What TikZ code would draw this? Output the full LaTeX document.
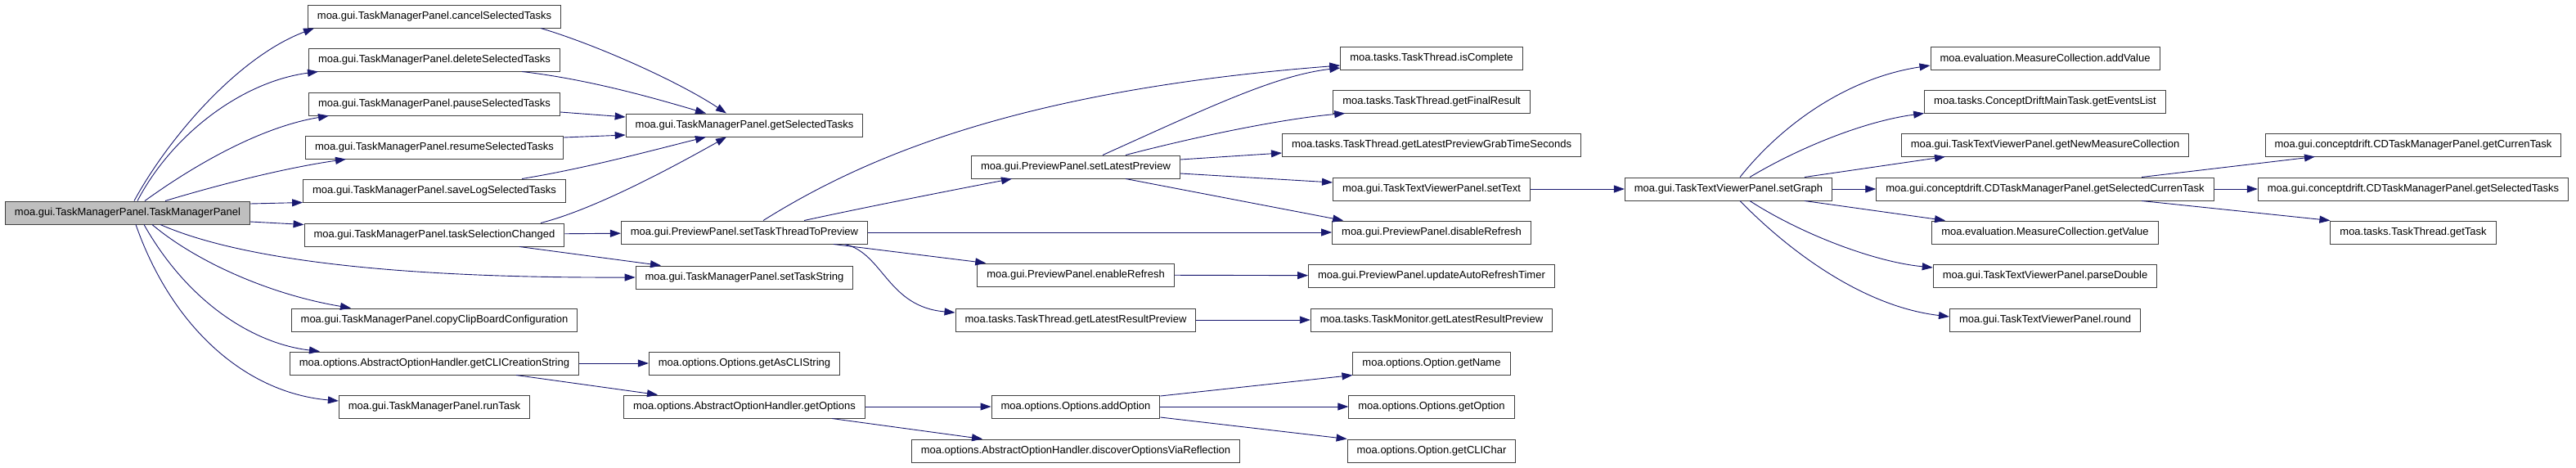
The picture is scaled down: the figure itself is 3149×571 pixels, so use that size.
\documentclass[tikz,border=0pt]{standalone}
\usepackage{fontspec}
\setmainfont{Liberation Sans}
\usetikzlibrary{arrows.meta}
\definecolor{midnight}{HTML}{191970}
\definecolor{rootgray}{HTML}{BFBFBF}

\begin{document}
\begin{tikzpicture}[x=1pt, y=-1pt,
  fn/.style = {draw=black!75, line width=1pt, rectangle, minimum height=28pt,
    inner xsep=11.5pt, inner ysep=0pt, font=\fontsize{13}{15}\selectfont},
  call/.style = {->, draw=midnight, line width=0.9pt},
  >={Triangle[length=13pt, width=9pt]}]
\useasboundingbox (0,0) rectangle (3149,571);

\node[fn, fill=rootgray] (root) at (156,260) {moa.gui.TaskManagerPanel.TaskManagerPanel};
% first column
\node[fn] (cancel) at (531,20) {moa.gui.TaskManagerPanel.cancelSelectedTasks};
\node[fn] (delete) at (531,73) {moa.gui.TaskManagerPanel.deleteSelectedTasks};
\node[fn] (pause) at (531,127) {moa.gui.TaskManagerPanel.pauseSelectedTasks};
\node[fn] (resume) at (531,180) {moa.gui.TaskManagerPanel.resumeSelectedTasks};
\node[fn] (savelog) at (531,233) {moa.gui.TaskManagerPanel.saveLogSelectedTasks};
\node[fn] (selchanged) at (531,287) {moa.gui.TaskManagerPanel.taskSelectionChanged};
\node[fn] (copyclip) at (531,391) {moa.gui.TaskManagerPanel.copyClipBoardConfiguration};
\node[fn] (clistring) at (531,444) {moa.options.AbstractOptionHandler.getCLICreationString};
\node[fn] (runtask) at (531,497) {moa.gui.TaskManagerPanel.runTask};
% second column
\node[fn] (getsel) at (910,153) {moa.gui.TaskManagerPanel.getSelectedTasks};
\node[fn] (setthread) at (910,284) {moa.gui.PreviewPanel.setTaskThreadToPreview};
\node[fn] (settaskstr) at (910,339) {moa.gui.TaskManagerPanel.setTaskString};
\node[fn] (ascli) at (910,444) {moa.options.Options.getAsCLIString};
\node[fn] (getopts) at (910,497) {moa.options.AbstractOptionHandler.getOptions};
% third column
\node[fn] (setlatest) at (1315,204) {moa.gui.PreviewPanel.setLatestPreview};
\node[fn] (enablerf) at (1315,336) {moa.gui.PreviewPanel.enableRefresh};
\node[fn] (ttpreview) at (1315,391) {moa.tasks.TaskThread.getLatestResultPreview};
\node[fn] (addopt) at (1315,497) {moa.options.Options.addOption};
\node[fn] (discover) at (1315,551) {moa.options.AbstractOptionHandler.discoverOptionsViaReflection};
% fourth column
\node[fn] (iscomplete) at (1750,71) {moa.tasks.TaskThread.isComplete};
\node[fn] (finalres) at (1750,124) {moa.tasks.TaskThread.getFinalResult};
\node[fn] (grabtime) at (1750,177) {moa.tasks.TaskThread.getLatestPreviewGrabTimeSeconds};
\node[fn] (settext) at (1750,231) {moa.gui.TaskTextViewerPanel.setText};
\node[fn] (disablerf) at (1750,284) {moa.gui.PreviewPanel.disableRefresh};
\node[fn] (autotimer) at (1750,337) {moa.gui.PreviewPanel.updateAutoRefreshTimer};
\node[fn] (tmpreview) at (1750,391) {moa.tasks.TaskMonitor.getLatestResultPreview};
\node[fn] (getname) at (1750,444) {moa.options.Option.getName};
\node[fn] (getoption) at (1750,497) {moa.options.Options.getOption};
\node[fn] (clichar) at (1750,551) {moa.options.Option.getCLIChar};
% graph panel
\node[fn] (setgraph) at (2113,231) {moa.gui.TaskTextViewerPanel.setGraph};
\node[fn] (addvalue) at (2500,71) {moa.evaluation.MeasureCollection.addValue};
\node[fn] (eventslist) at (2500,124) {moa.tasks.ConceptDriftMainTask.getEventsList};
\node[fn] (newmeasure) at (2500,177) {moa.gui.TaskTextViewerPanel.getNewMeasureCollection};
\node[fn] (selcurren) at (2500,231) {moa.gui.conceptdrift.CDTaskManagerPanel.getSelectedCurrenTask};
\node[fn] (getvalue) at (2500,284) {moa.evaluation.MeasureCollection.getValue};
\node[fn] (parsedbl) at (2500,337) {moa.gui.TaskTextViewerPanel.parseDouble};
\node[fn] (roundfn) at (2500,391) {moa.gui.TaskTextViewerPanel.round};
\node[fn] (currentask) at (2950,177) {moa.gui.conceptdrift.CDTaskManagerPanel.getCurrenTask};
\node[fn] (cdselected) at (2950,231) {moa.gui.conceptdrift.CDTaskManagerPanel.getSelectedTasks};
\node[fn] (gettask) at (2950,284) {moa.tasks.TaskThread.getTask};

% calls made by the constructor
\draw[call] ([xshift=8pt]root.north) .. controls (205,170) and (290,70) .. ([xshift=-147pt]cancel.south);
\draw[call] ([xshift=12pt]root.north) .. controls (210,165) and (295,100) .. ([xshift=-142pt]delete.south);
\draw[call] ([xshift=21pt]root.north) .. controls (240,200) and (320,155) .. ([xshift=-129pt]pause.south);
\draw[call] ([xshift=46pt]root.north) .. controls (270,225) and (350,205) .. ([xshift=-108pt]resume.south);
\draw[call] ([yshift=11pt]root.east) -- (savelog.south west);
\draw[call] ([yshift=-11pt]root.east) -- ([yshift=-2pt]selchanged.north west);
\draw[call] ([xshift=40pt]root.south) .. controls (300,320) and (500,340) .. (settaskstr.west);
\draw[call] ([xshift=30pt]root.south) .. controls (240,320) and (330,360) .. ([xshift=-102pt]copyclip.north);
\draw[call] ([xshift=20pt]root.south) .. controls (230,370) and (310,420) .. ([xshift=-140pt]clistring.north);
\draw[call] ([xshift=10pt]root.south) .. controls (210,400) and (300,480) .. ([yshift=7pt]runtask.west);

\draw[call] ([xshift=130pt]cancel.south) .. controls (730,55) and (830,100) .. ([xshift=-22pt]getsel.north);
\draw[call] ([xshift=107pt]delete.south) .. controls (720,97) and (800,120) .. ([xshift=-47pt]getsel.north);
\draw[call] ([yshift=-10pt]pause.east) -- ([yshift=10pt]getsel.west);
\draw[call] ([yshift=12pt]resume.east) -- ([yshift=-12pt]getsel.west);
\draw[call] ([xshift=107pt]savelog.north) .. controls (720,205) and (800,183) .. ([xshift=-47pt]getsel.south);
\draw[call] ([xshift=130pt]selchanged.north) .. controls (730,255) and (830,200) .. ([xshift=-22pt]getsel.south);
\draw[call] (selchanged) -- (setthread);
\draw[call] ([xshift=104pt]selchanged.south) -- ([xshift=-102pt]settaskstr.north);

% preview panel
\draw[call] ([xshift=23pt]setthread.north) .. controls (1060,190) and (1250,110) .. ([yshift=-9pt]iscomplete.west);
\draw[call] ([xshift=73pt]setthread.north) .. controls (1050,255) and (1150,235) .. ([xshift=-78pt]setlatest.south);
\draw[call] (setthread) -- (disablerf);
\draw[call] ([xshift=109pt]setthread.south) -- ([xshift=11pt]enablerf.north west);
\draw[call] ([xshift=123pt]setthread.south) .. controls (1080,310) and (1085,375) .. ([yshift=9pt]ttpreview.west);

\draw[call] ([xshift=33pt]setlatest.north) .. controls (1480,130) and (1560,92) .. ([yshift=-12pt]iscomplete.west);
\draw[call] ([xshift=61pt]setlatest.north) .. controls (1470,165) and (1570,145) .. ([xshift=15pt]finalres.south west);
\draw[call] ([yshift=9pt]setlatest.east) -- ([yshift=-10pt]grabtime.west);
\draw[call] ([yshift=-8pt]setlatest.east) -- ([yshift=8pt]settext.west);
\draw[call] ([xshift=61pt]setlatest.south) -- ([xshift=14pt]disablerf.north west);

\draw[call] (settext) -- (setgraph);
\draw[call] (enablerf) -- (autotimer);
\draw[call] (ttpreview) -- (tmpreview);

% options
\draw[call] (clistring) -- (ascli);
\draw[call] ([xshift=100pt]clistring.south) -- ([xshift=-106pt]getopts.north);
\draw[call] (getopts) -- (addopt);
\draw[call] ([xshift=107pt]getopts.south) -- ([xshift=-114pt]discover.north);
\draw[call] ([yshift=13pt]addopt.east) -- (getname.south west);
\draw[call] (addopt) -- (getoption);
\draw[call] ([yshift=-13pt]addopt.east) -- (clichar.north west);

% graph
\draw[call] ([xshift=14pt]setgraph.north) .. controls (2180,150) and (2260,95) .. ([yshift=-9pt]addvalue.west);
\draw[call] ([xshift=26pt]setgraph.north) .. controls (2200,180) and (2280,148) .. (eventslist.south west);
\draw[call] ([xshift=93pt]setgraph.north) -- ([xshift=-122pt]newmeasure.south);
\draw[call] (setgraph) -- (selcurren);
\draw[call] ([xshift=93pt]setgraph.south) -- ([xshift=-122pt]getvalue.north);
\draw[call] ([xshift=26pt]setgraph.south) .. controls (2200,285) and (2290,320) .. ([yshift=10pt]parsedbl.west);
\draw[call] ([xshift=14pt]setgraph.south) .. controls (2190,310) and (2280,375) .. ([yshift=4pt]roundfn.west);

\draw[call] ([xshift=118pt]selcurren.north) -- ([xshift=-120pt]currentask.south);
\draw[call] (selcurren) -- (cdselected);
\draw[call] ([xshift=118pt]selcurren.south) -- (gettask.north west);
\end{tikzpicture}
\end{document}
